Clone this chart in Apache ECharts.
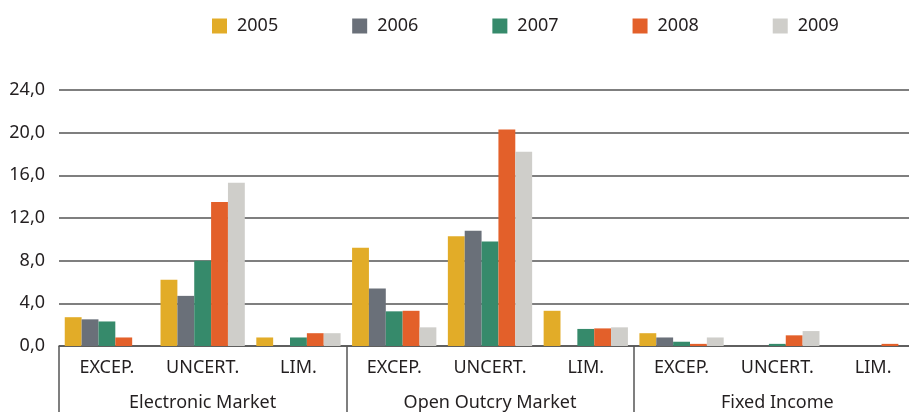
<!DOCTYPE html>
<html>
<head>
<meta charset="utf-8">
<script src="https://cdn.jsdelivr.net/npm/echarts@6/dist/echarts.min.js"></script>
<style>
html, body { margin: 0; padding: 0; background: #fff; }
#chart { width: 909px; height: 412px; }
</style>
</head>
<body>
<div id="chart"></div>
<script>
// categories / groups
var categories = ['EXCEP.', 'UNCERT.', 'LIM.', 'EXCEP.', 'UNCERT.', 'LIM.', 'EXCEP.', 'UNCERT.', 'LIM.'];
var groups = ['Electronic Market', 'Open Outcry Market', 'Fixed Income'];
var years = ['2005', '2006', '2007', '2008', '2009'];
var yTicks = [0, 4, 8, 12, 16, 20, 24];

// values
var v2005 = [2.7, 6.2, 0.8, 9.2, 10.3, 3.3, 1.2, 0, 0];
var v2006 = [2.5, 4.7, 0, 5.4, 10.8, 0, 0.8, 0, 0];
var v2007 = [2.3, 8.0, 0.8, 3.25, 9.8, 1.6, 0.4, 0.2, 0];
var v2008 = [0.8, 13.5, 1.2, 3.3, 20.3, 1.65, 0.2, 1.0, 0.2];
var v2009 = [0, 15.3, 1.2, 1.75, 18.2, 1.75, 0.8, 1.4, 0];

var colors = ['#E2AC28', '#6A7079', '#368A6B', '#E3602A', '#CFCECA'];
var values = [v2005, v2006, v2007, v2008, v2009];
var font = 'Noto Sans';
var txt = '#231f20';

var chart = echarts.init(document.getElementById('chart'));

var series = years.map(function (y, i) {
	return {
		name: y,
		type: 'bar',
		xAxisIndex: 0,
		data: values[i],
		barGap: 0,
		barCategoryGap: '12%',
		itemStyle: { color: colors[i] }
	};
});

var option = {
	animation: false,
	color: colors,
	textStyle: { fontFamily: font },
	legend: {
		data: years,
		top: 12,
		left: 207,
		icon: 'rect',
		itemWidth: 15,
		itemHeight: 15,
		itemGap: 74,
		textStyle: { fontSize: 18, color: txt, fontFamily: font, padding: [0, 0, 0, 5] }
	},
	grid: {
		left: 59,
		right: -12,
		top: 90,
		bottom: 66,
		containLabel: false,
		outerBoundsMode: 'none'
	},
	xAxis: [{
		type: 'category',
		data: categories,
		position: 'bottom',
		axisLine: { show: true, lineStyle: { color: '#555', width: 1.5 } },
		axisTick: { show: false },
		axisLabel: { interval: 0, margin: 13, fontSize: 18, color: txt, fontFamily: font }
	}, {
		type: 'category',
		data: groups,
		position: 'bottom',
		axisLine: { show: false },
		axisTick: { show: true, length: 70, interval: 0, lineStyle: { color: '#555', width: 1.5 } },
		axisLabel: { interval: 0, margin: 48, fontSize: 18, color: txt, fontFamily: font }
	}],
	yAxis: {
		type: 'value',
		min: yTicks[0],
		max: yTicks[yTicks.length - 1],
		interval: 4,
		axisLine: { show: false },
		axisTick: { show: false },
		splitLine: { lineStyle: { color: '#555', width: 1.5 } },
		axisLabel: {
			margin: 14,
			fontSize: 18,
			color: txt,
			fontFamily: font,
			formatter: function (v) { return v.toFixed(1).replace('.', ','); }
		}
	},
	series: series
};

chart.setOption(option);
</script>
</body>
</html>
